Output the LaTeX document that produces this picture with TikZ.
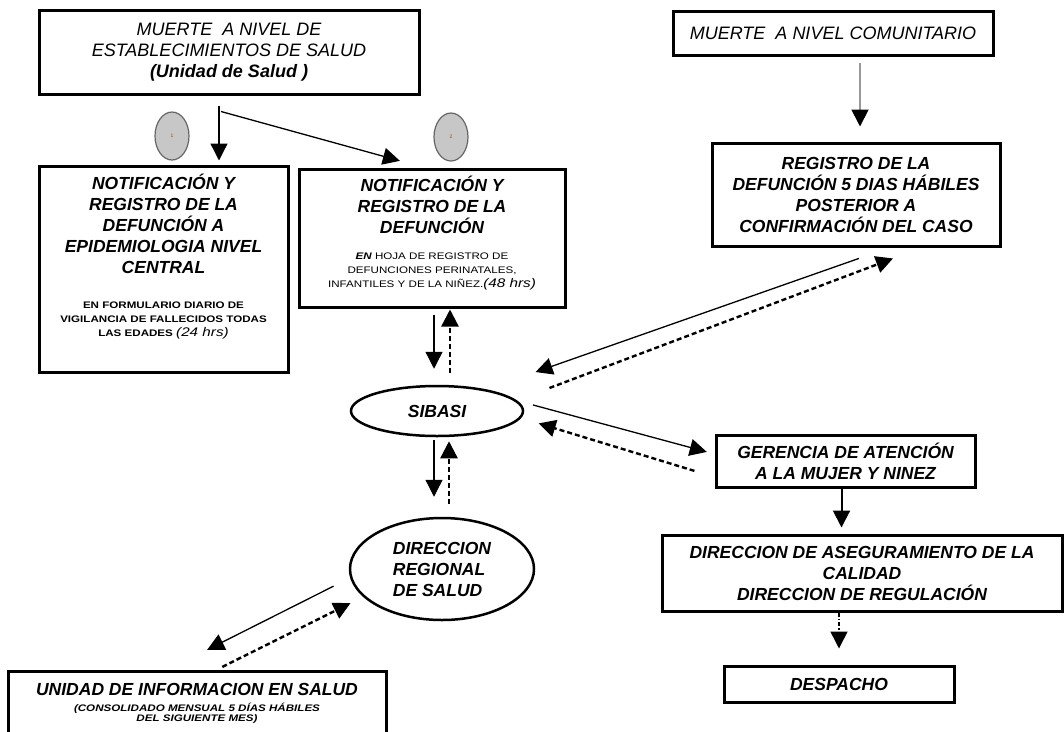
\documentclass[tikz,border=0pt]{standalone}
\usepackage{fontspec}
\setmainfont{Liberation Sans}
\newfontfamily\widesans[FakeStretch=1.22]{Liberation Sans}
\usetikzlibrary{arrows.meta,positioning,shapes.geometric}
\tikzset{
  box/.style={rectangle, draw=black, line width=3pt, fill=white, align=center, inner sep=3pt, font=\fontsize{17.5}{21}\selectfont\bfseries\itshape},
  thinbox/.style={box, font=\fontsize{18}{21}\selectfont\itshape},
  oval/.style={ellipse, draw=black, line width=2.5pt, fill=white, inner sep=0pt, font=\fontsize{17.5}{21}\selectfont\bfseries\itshape},
  tag/.style={ellipse, draw=black!60, fill=black!22, line width=1.2pt, minimum width=34pt, minimum height=48pt, inner sep=0pt, text=orange!60!black, font=\fontsize{5}{5}\selectfont},
  arrow/.style={-{Triangle[width=17pt,length=17pt]}, line width=1.3pt},
  backarrow/.style={-{Triangle[width=17pt,length=17pt]}, line width=2.4pt, dash pattern=on 5pt off 3pt},
  grayarrow/.style={-{Triangle[width=17pt,length=17pt,color=black]}, draw=black!40, line width=1.8pt},
  dotarrow/.style={-{Triangle[width=17pt,length=17pt]}, line width=1.5pt, dash pattern=on 4pt off 2pt on 1.5pt off 2pt}
}
\newcommand\smallrows[1]{\begin{tabular}[t]{@{}c@{}}#1\end{tabular}}

\begin{document}
\begin{tikzpicture}[x=1pt, y=-1pt]
  \useasboundingbox (0,0) rectangle (1064,731);
  \clip (0,0) rectangle (1064,731);

  % left branch
  \node[thinbox, minimum width=380pt, minimum height=84pt] (muerte) at (229,52) {MUERTE\ \ A NIVEL DE\\ESTABLECIMIENTOS DE SALUD\\{\bfseries (Unidad de Salud )}};
  \node[box, minimum width=249pt, minimum height=206pt] (epi) at (163.5,269) {NOTIFICACIÓN Y\\REGISTRO DE LA\\DEFUNCIÓN A\\EPIDEMIOLOGIA NIVEL\\CENTRAL\\[13.5pt]{\widesans\upshape\fontsize{9.5}{14}\selectfont\smallrows{EN FORMULARIO DIARIO DE\\VIGILANCIA DE FALLECIDOS TODAS\\LAS EDADES {\mdseries\itshape\fontsize{12.5}{14}\selectfont(24 hrs)}\rule[-27pt]{0pt}{0pt}}}};
  \node[box, minimum width=266pt, minimum height=138pt] (hoja) at (432,238) {NOTIFICACIÓN Y\\REGISTRO DE LA\\DEFUNCIÓN\\[5.5pt]{\widesans\mdseries\upshape\fontsize{9.5}{14}\selectfont\smallrows{{\bfseries\itshape EN} HOJA DE REGISTRO DE\\DEFUNCIONES PERINATALES,\\INFANTILES Y DE LA NIÑEZ.{\itshape\fontsize{12.5}{14}\selectfont(48 hrs)}\rule[-12pt]{0pt}{0pt}}}};
  \node[tag] (tag1) at (172,136) {1};
  \node[tag] (tag2) at (451,137) {2};
  \node[oval, minimum width=172pt, minimum height=50pt] (sibasi) at (437,411) {SIBASI};
  \node[oval, minimum width=184pt, minimum height=102pt, align=left] (regional) at (442,569) {DIRECCION\\REGIONAL\\DE SALUD};
  \node[box, anchor=north, minimum width=378pt, inner ysep=11.5pt] (unidad) at (197,670) {UNIDAD DE INFORMACION EN SALUD\\[-5pt]{\widesans\fontsize{9.5}{10.5}\selectfont\smallrows{(CONSOLIDADO MENSUAL 5 DÍAS HÁBILES\\DEL SIGUIENTE MES)\rule[-40pt]{0pt}{0pt}}}};

  % right branch
  \node[thinbox, minimum width=320pt, minimum height=44pt] (comunitario) at (833,33) {MUERTE\ \ A NIVEL COMUNITARIO};
  \node[box, minimum width=288pt, minimum height=103pt] (registro) at (856,194.5) {REGISTRO DE LA\\DEFUNCIÓN 5 DIAS HÁBILES\\POSTERIOR A\\CONFIRMACIÓN DEL CASO};
  \node[box, minimum width=259pt, minimum height=52pt] (gerencia) at (845.5,461) {GERENCIA DE ATENCIÓN\\A LA MUJER Y NINEZ};
  \node[box, minimum width=400pt, minimum height=76pt] (aseg) at (862,573) {DIRECCION DE ASEGURAMIENTO DE LA\\CALIDAD\\DIRECCION DE REGULACIÓN};
  \node[box, minimum width=230pt, minimum height=36pt] (despacho) at (839,684) {DESPACHO};

  \coordinate (fork) at ([xshift=-8pt,yshift=-16pt]muerte.south);

  \draw[arrow, shorten <=10pt, shorten >=4pt] ([xshift=-10pt]muerte.south) -- ([xshift=-10pt]muerte.south |- epi.north);
  \draw[arrow, shorten >=25pt] (fork) -- ([xshift=-8pt]hoja.north);
  \draw[arrow, shorten <=6pt, shorten >=16pt] ([xshift=-3pt]sibasi.north |- hoja.south) -- ([xshift=-3pt]sibasi.north);
  \draw[backarrow, shorten <=12pt, shorten >=1pt] ([xshift=13pt]sibasi.north) -- ([xshift=13pt]sibasi.north |- hoja.south);
  \draw[arrow, shorten <=3pt, shorten >=20pt] ([xshift=-3pt]sibasi.south) -- ([xshift=-3pt]sibasi.south |- regional.north);
  \draw[backarrow, shorten <=13pt, shorten >=4pt] ([xshift=12pt]sibasi.south |- regional.north) -- ([xshift=12pt]sibasi.south);
  \draw[arrow, shorten <=17pt, shorten >=45pt] ([yshift=-9.5pt]regional.west) -- ([xshift=-30pt]unidad.north);
  \draw[backarrow, shorten <=7pt, shorten >=-2pt] ([xshift=19pt]unidad.north) -- ([yshift=-35pt]regional.west);
  \draw[grayarrow, shorten <=6pt, shorten >=15pt] ([xshift=4pt]registro.north |- comunitario.south) -- ([xshift=4pt]registro.north);
  \draw[arrow, shorten <=33pt, shorten >=12pt] ([xshift=34pt]registro.south) -- ([yshift=35pt]sibasi.east);
  \draw[backarrow, shorten <=27pt, shorten >=31pt] ([yshift=13.5pt]sibasi.east) -- ([xshift=66pt]registro.south);
  \draw[arrow, shorten <=9pt, shorten >=8pt] ([yshift=8.4pt]sibasi.east) -- ([yshift=7pt]gerencia.west);
  \draw[backarrow, shorten <=21pt, shorten >=15pt] ([yshift=-16pt]gerencia.west) -- ([yshift=-8pt]sibasi.east);
  \draw[arrow, line width=2pt, shorten >=6pt] ([xshift=-4pt]gerencia.south) -- ([xshift=-4pt]gerencia.south |- aseg.north);
  \draw[dotarrow, shorten >=16pt] (aseg.south -| despacho.north) -- (despacho.north);
\end{tikzpicture}
\end{document}
